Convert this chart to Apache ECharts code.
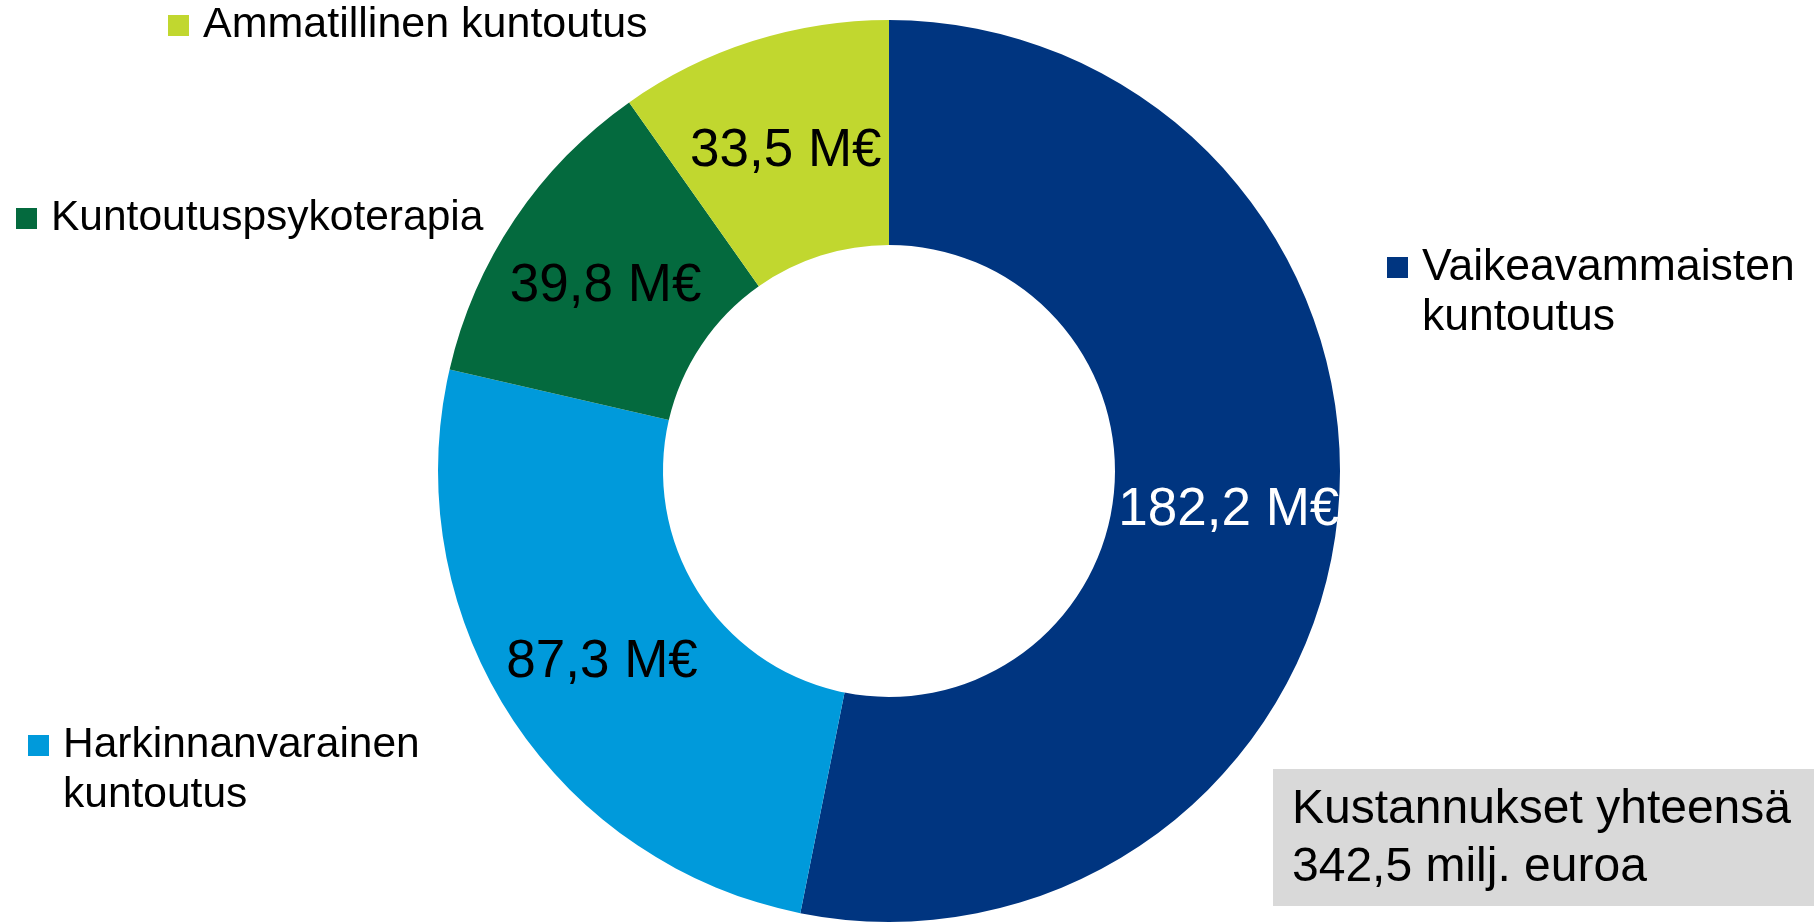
<!DOCTYPE html>
<html>
<head>
<meta charset="utf-8">
<title>Kuntoutuksen kustannukset</title>
<script src="https://cdn.jsdelivr.net/npm/echarts@6/dist/echarts.min.js"></script>
<style>
  html, body { margin: 0; padding: 0; background: #ffffff; }
  #chart { width: 1814px; height: 922px; }
</style>
</head>
<body>
<div id="chart"></div>
<script>
// Costs by rehabilitation type, millions of euros
var names = [
  'Vaikeavammaisten\nkuntoutus',
  'Harkinnanvarainen\nkuntoutus',
  'Kuntoutuspsykoterapia',
  'Ammatillinen kuntoutus'
];
var values = [182.2, 87.3, 39.8, 33.5];
var colors = ['#003580', '#009ADB', '#046A3E', '#C1D72F'];
var labelColors = ['#ffffff', '#000000', '#000000', '#000000'];
var totalText = ['Kustannukset yhteensä', '342,5 milj. euroa'];

var font = '"Liberation Sans", Arial, sans-serif';

var chart = echarts.init(document.getElementById('chart'));

function fmt(v) {
  return v.toFixed(1).replace('.', ',') + ' M€';
}

// one legend block per slice, placed around the donut like the original
// (left / top of the colour square)
var legendPos = [
  { left: 1387, top: 257, size: 44.5 },
  { left: 28, top: 735, size: 42.5 },
  { left: 16, top: 208, size: 42.5 },
  { left: 168, top: 15, size: 43 }
];

var legends = names.map(function (n, i) {
  var multi = n.indexOf('\n') >= 0;
  return {
    data: [n],
    left: legendPos[i].left,
    // legend centres the square on the text block, so shift up by half of it
    top: legendPos[i].top - (multi ? 64.5 : 14.5),
    orient: 'vertical',
    icon: 'rect',
    itemWidth: 21,
    itemHeight: 21,
    selectedMode: false,
    padding: 0,
    // a blank first line keeps the square level with the first text line
    formatter: function (name) { return multi ? ' \n' + name : name; },
    textStyle: {
      fontFamily: font,
      fontSize: legendPos[i].size,
      color: '#000000',
      lineHeight: 50,
      padding: [0, 0, 0, 9]
    }
  };
});

var data = names.map(function (n, i) {
  return {
    name: n,
    value: values[i],
    itemStyle: { color: colors[i] },
    label: { color: labelColors[i] }
  };
});

var option = {
  backgroundColor: '#ffffff',
  animation: false,
  legend: legends,
  series: [
    {
      type: 'pie',
      center: [889, 471],
      radius: [226, 451],
      startAngle: 90,
      clockwise: true,
      avoidLabelOverlap: false,
      itemStyle: { borderWidth: 0 },
      emphasis: { disabled: true },
      label: {
        show: true,
        position: 'inside',
        fontFamily: font,
        fontSize: 53,
        offset: [0, 6],
        formatter: function (p) { return fmt(p.value); }
      },
      labelLine: { show: false },
      data: data
    }
  ],
  graphic: [
    {
      type: 'rect',
      shape: { x: 1273, y: 769, width: 541, height: 137 },
      style: { fill: '#D9D9D9' }
    },
    {
      type: 'text',
      x: 1292,
      y: 781,
      style: {
        text: totalText.join('\n'),
        font: '48px ' + font,
        fill: '#000000',
        lineHeight: 58
      }
    }
  ]
};

chart.setOption(option);
</script>
</body>
</html>
